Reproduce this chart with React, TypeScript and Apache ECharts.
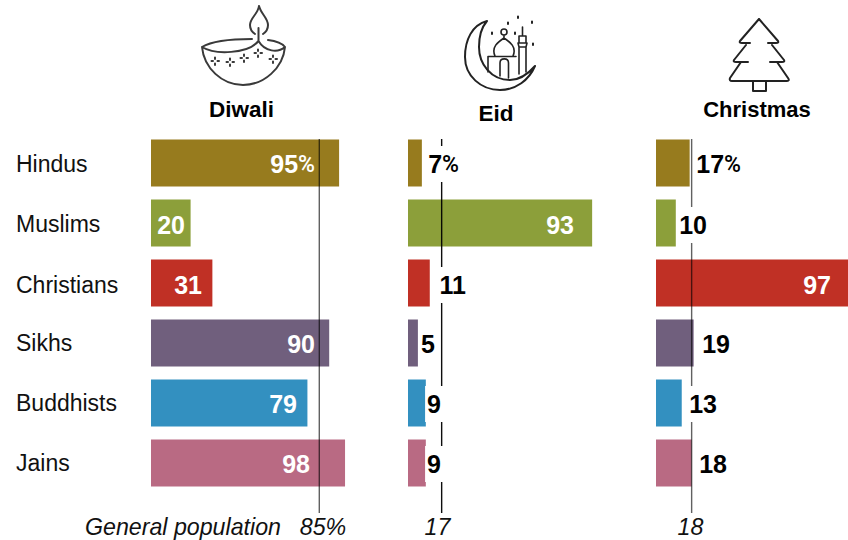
import React, { useEffect, useRef } from "react";
import * as echarts from "echarts";

const categories = ["Hindus", "Muslims", "Christians", "Sikhs", "Buddhists", "Jains"];
const festivals = ["Diwali", "Eid", "Christmas"];
const diwali = [95, 20, 31, 90, 79, 98];
const eid = [7, 93, 11, 5, 9, 9];
const christmas = [17, 10, 97, 19, 13, 18];
const generalPopulation = [85, 17, 18];
const generalPopulationLabels = ["85%", "17", "18"];
const colors = ["#977B1E", "#8C9F3A", "#C03025", "#705F7D", "#3390C0", "#B96A83"];

// layout
const panelLefts = [151, 408, 656];
const axisMaxes = [100, 100, 97];
const pxPerUnit = 1.98;
const labelRightEdges = [
  [315, 185, 202, 315, 297, 310],
  [459, 574, 466, 435, 441, 441],
  [741, 707, 831, 730, 717, 727],
];
const labelBoxes = [
  [false, false, false, false, false, false],
  [true, false, true, false, true, true],
  [false, true, false, false, true, false],
];
const labelRowShift = [1, 2, 2, 1, 1, 1];
const categoryTopPadding = [2, 1, 4, 0, 0, 0];
const titleCentres = [241.5, 496, 757];
const titleMiddles = [109, 113, 109];
const titleSizes = [22.5, 22.5, 22];
const bottomTextCentres = [323, 437.5, 690.5];
const lineColors = ["rgba(0,0,0,0.62)", "rgba(0,0,0,0.95)", "rgba(0,0,0,0.62)"];

const iconShapes: Record<string, string> = {
  diwaliLine:
    "M259 6C261 14 268 18 268 25C268 29 266 32 263 34M259 6C258 14 250 18 250 25C250 29 252 32 255 34M258.5 28L258.5 41M202 47C212 41 232 39 252 39M202 47C215 55 248 54 258.5 41C265 52 278 53 285 47C282 43 276 41 268 40M202 47C204 68 222 85 243 85C264 85 283 68 285 47",
  diwaliDots:
    "M211.5 61h1.5M217.5 61h1.5M215 57.5v1.5M215 63.5v1.5M226.5 62h1.5M232.5 62h1.5M230 58.5v1.5M230 64.5v1.5M240.5 58h1.5M246.5 58h1.5M244 54.5v1.5M244 60.5v1.5M254.5 53h1.5M260.5 53h1.5M258 49.5v1.5M258 55.5v1.5M269.5 59h1.5M275.5 59h1.5M273 55.5v1.5M273 61.5v1.5",
  eidMoon:
    "M487 21C472 25 465 40 465 57C465 76 481 90 500 90C516 90 529 80 535 66C528 74 520 80 510 80C491 80 479 64 479 47C479 36 481 28 487 21Z",
  eidMosque:
    "M488 72L488 56.5L516 56.5M500 76L500 63C500 57.5 508.5 57.5 508.5 63L508.5 78M495 56C491 47 498 42 504 38C510 42 517 47 513 56M504 35L504 38M501 32C501 28 507 28 507 32C507 36 501 36 501 32ZM519 74L519 47L526 47L526 72M518 43L527 43L526 47L519 47ZM519 43L519 36L526 36L526 43M522.5 36L522.5 27",
  eidStars:
    "M518 16.5v1.5M508 22.5v1.5M532 21.5v1.5M492 32.5v1.5M515 32.5v1.5M533 43.5v1.5",
  tree:
    "M759 19L778 41Q779 43 776 43L768 43M750 43L742 43Q739 43 740 41L759 19M746 45L734 60Q733 62 736 62L748 62M772 45L784 60Q785 62 782 62L770 62M741 62L730 78Q729 81 732 81L787 81Q790 81 788 78L777 62M753 81L753 91L766 91L766 81",
};
Object.entries(iconShapes).forEach(([name, d]) => {
  echarts.graphic.registerShape(name, echarts.graphic.extendPath(d, {}));
});

const sans = "'Liberation Sans', Arial, sans-serif";

function barSeries(values: number[], panel: number) {
  return {
    type: "bar",
    xAxisIndex: panel,
    yAxisIndex: panel,
    barWidth: 47,
    barGap: "-100%",
    z: 1,
    silent: true,
    data: values.map((v, i) => ({ value: v, itemStyle: { color: colors[i] } })),
  };
}

function labelSeries(values: number[], panel: number) {
  return {
    type: "bar",
    xAxisIndex: panel,
    yAxisIndex: panel,
    barWidth: 47,
    barGap: "-100%",
    z: 3,
    silent: true,
    itemStyle: { color: "transparent" },
    data: values.map((v, i) => {
      const barEnd = panelLefts[panel] + v * pxPerUnit;
      const right = labelRightEdges[panel][i];
      const inside = right <= barEnd;
      const boxed = labelBoxes[panel][i];
      const color = inside ? "#ffffff" : "#000000";
      return {
        value: v,
        label: {
          show: true,
          position: "insideRight",
          distance: 0,
          offset: [right - barEnd + (boxed ? 6 : 0), labelRowShift[i]],
          padding: boxed ? [0, 6, 0, 2] : 0,
          backgroundColor: boxed ? "#ffffff" : "transparent",
          formatter: i === 0 ? `{n|${v}}{p|%}` : `{n|${v}}`,
          rich: {
            n: { fontFamily: sans, fontWeight: "bold", fontSize: 25, lineHeight: 36, color },
            p: { fontFamily: "Roboto, sans-serif", fontWeight: 500, fontSize: 23, lineHeight: 36, color },
          },
        },
      };
    }),
  };
}

function refLineSeries(value: number, panel: number) {
  return {
    type: "line",
    xAxisIndex: panel + 3,
    yAxisIndex: panel + 3,
    symbol: "none",
    silent: true,
    z: 2,
    lineStyle: { color: lineColors[panel], width: 1.4 },
    data: [
      [value, 0],
      [value, 1],
    ],
  };
}

export default function App() {
  const ref = useRef<HTMLDivElement>(null);
  useEffect(() => {
    document.body.style.margin = "0";
    const chart = echarts.init(ref.current!, undefined, { renderer: "svg" });
    const barGrids = panelLefts.map((left, i) => ({ left, top: 133, width: axisMaxes[i] * pxPerUnit, height: 360, outerBoundsMode: "none" }));
    const lineGrids = panelLefts.map((left, i) => ({ left, top: 139, width: axisMaxes[i] * pxPerUnit, height: 374, outerBoundsMode: "none" }));
    const valueAxis = (gridIndex: number) => ({
      type: "value",
      gridIndex,
      min: 0,
      max: axisMaxes[gridIndex % 3],
      show: false,
    });
    const iconStyle = { fill: "none", lineCap: "round", lineJoin: "round" };
    const categoryRich: Record<string, object> = {};
    categories.forEach((_, i) => {
      categoryRich[`r${i}`] = {
        fontFamily: sans,
        fontSize: 23,
        color: "#111111",
        padding: [categoryTopPadding[i], 0, 0, 0],
      };
    });
    chart.setOption({
      animation: false,
      backgroundColor: "#ffffff",
      grid: [...barGrids, ...lineGrids],
      xAxis: [0, 1, 2, 3, 4, 5].map(valueAxis),
      yAxis: [
        ...[0, 1, 2].map((gridIndex) => ({
          type: "category",
          gridIndex,
          inverse: true,
          data: categories,
          axisLine: { show: false },
          axisTick: { show: false },
          axisLabel: {
            show: gridIndex === 0,
            align: "left",
            margin: 135,
            formatter: (v: string) => `{r${categories.indexOf(v)}|${v}}`,
            rich: categoryRich,
          },
        })),
        ...[3, 4, 5].map(valueAxis).map((a) => ({ ...a, min: 0, max: 1, inverse: true })),
      ],
      series: [
        barSeries(diwali, 0),
        barSeries(eid, 1),
        barSeries(christmas, 2),
        refLineSeries(generalPopulation[0], 0),
        refLineSeries(generalPopulation[1], 1),
        refLineSeries(generalPopulation[2], 2),
        labelSeries(diwali, 0),
        labelSeries(eid, 1),
        labelSeries(christmas, 2),
      ],
      graphic: [
        ...Object.keys(iconShapes).map((name) => ({
          type: name,
          x: 0,
          y: 0,
          style: {
            ...iconStyle,
            stroke: name.startsWith("diwali") ? "#3a3a3a" : "#222222",
            lineWidth: name === "eidMosque" ? 1.6 : 2,
          },
        })),
        ...festivals.map((t, i) => ({
          type: "text",
          x: titleCentres[i],
          y: titleMiddles[i],
          style: { text: t, font: `bold ${titleSizes[i]}px ${sans}`, fill: "#000000", textAlign: "center", textVerticalAlign: "middle" },
        })),
        {
          type: "text",
          x: 85,
          y: 527,
          style: { text: "General population", font: `italic 23.2px ${sans}`, fill: "#111111", textAlign: "left", textVerticalAlign: "middle" },
        },
        ...generalPopulationLabels.map((t, i) => ({
          type: "text",
          x: bottomTextCentres[i],
          y: 527,
          style: { text: t, font: `italic 23.2px ${sans}`, fill: "#111111", textAlign: "center", textVerticalAlign: "middle" },
        })),
      ],
    });
    return () => chart.dispose();
  }, []);
  return <div ref={ref} style={{ width: 848, height: 540 }} />;
}
